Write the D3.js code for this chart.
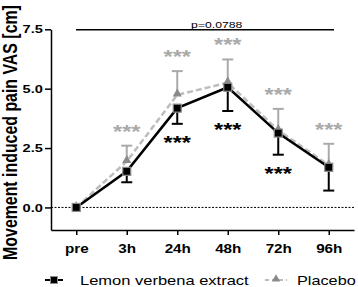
<!DOCTYPE html>
<html><head><meta charset="utf-8">
<script src="https://cdn.jsdelivr.net/npm/d3@7"></script>
<style>html,body{margin:0;padding:0;background:#fff}svg{display:block}</style>
</head><body>
<script>
const categories = ["pre","3h","24h","48h","72h","96h"];
const lemonMean = [0, 1.52, 4.18, 5.06, 3.13, 1.69];
const lemonErr  = [0, 0.46, 0.66, 1.0, 0.91, 0.98];
const placeboMean = [0, 1.94, 4.74, 5.25, 3.25, 1.78];
const placeboErr  = [0, 0.66, 1.0, 0.98, 0.9, 0.9];
const lemonStars = ["", "", "***", "***", "***", ""];
const placeboStars = ["", "***", "***", "***", "***", "***"];
const yTicks = [0, 2.5, 5.0, 7.5];
const yTitle = "Movement induced pain VAS [cm]";
const pText = "p=0.0788";
const legendLabels = ["Lemon verbena extract", "Placebo"];

const W = 358, H = 287, SX = 1.27;
const FONT = "'Liberation Sans', Arial, sans-serif";
const svg = d3.select("body").append("svg").attr("width", W).attr("height", H)
  .style("font-family", FONT);

const x = d3.scalePoint().domain(categories).range([51, 354]).padding(0.5);
const y = d3.scaleLinear().domain([-0.95, 7.5]).range([230, 29.3]);

function txt(g, s, px, py, size, weight, anchor, fill) {
  return g.append("text").attr("transform", `translate(${px},${py}) scale(${SX},1)`)
    .attr("text-anchor", anchor).attr("font-size", size).attr("font-weight", weight)
    .attr("fill", fill).text(s);
}

// zero line
svg.append("line").attr("x1", 51).attr("x2", 354).attr("y1", y(0)).attr("y2", y(0))
  .attr("stroke", "#000").attr("stroke-width", 1).attr("stroke-dasharray", "2,1.5");

// axes
const yAx = svg.append("g").attr("transform", "translate(51,0)")
  .call(d3.axisLeft(y).tickValues(yTicks).tickFormat(d3.format(".1f")).tickSize(6).tickSizeOuter(0).tickPadding(0.4));
yAx.selectAll("path,line").attr("stroke", "#000").attr("stroke-width", 1.5);
yAx.selectAll("text").attr("font-size", 11.5).attr("font-weight", "bold").attr("fill", "#000")
  .attr("font-family", FONT).attr("transform", `scale(${SX},1)`);

const xAx = svg.append("g").attr("transform", "translate(0,230)")
  .call(d3.axisBottom(x).tickSize(5).tickSizeOuter(0).tickPadding(9));
xAx.selectAll("path,line").attr("stroke", "#000").attr("stroke-width", 1.5);
xAx.selectAll("text").attr("font-size", 12).attr("font-weight", "bold").attr("fill", "#000")
  .attr("font-family", FONT).attr("transform", `scale(${SX},1)`);

// y title
svg.append("text").attr("transform", `translate(17,132.5) scale(${SX},1) rotate(-90)`)
  .attr("text-anchor", "middle").attr("font-size", 15.9).attr("font-weight", "bold").text(yTitle);

// significance bracket
svg.append("line").attr("x1", 76).attr("x2", 334).attr("y1", 29.8).attr("y2", 29.8)
  .attr("stroke", "#000").attr("stroke-width", 1.5);
txt(svg, pText, 216.7, 27.5, 9.6, "normal", "middle", "#000");

const data = categories.map((c, i) => ({c, lm: lemonMean[i], le: lemonErr[i], pm: placeboMean[i], pe: placeboErr[i], ls: lemonStars[i], ps: placeboStars[i]}));

const line = (acc) => d3.line().x(d => x(d.c)).y(d => y(acc(d)));

// placebo series
svg.append("path").datum(data).attr("d", line(d => d.pm)).attr("fill", "none")
  .attr("stroke", "#bdbdbd").attr("stroke-width", 2.5).attr("stroke-dasharray", "6,3");
const pErr = svg.append("g");
data.filter(d => d.pe > 0).forEach(d => {
  pErr.append("line").attr("x1", x(d.c)).attr("x2", x(d.c)).attr("y1", y(d.pm)).attr("y2", y(d.pm + d.pe))
    .attr("stroke", "#aaa").attr("stroke-width", 2);
  pErr.append("line").attr("x1", x(d.c) - 5.5).attr("x2", x(d.c) + 5.5).attr("y1", y(d.pm + d.pe)).attr("y2", y(d.pm + d.pe))
    .attr("stroke", "#aaa").attr("stroke-width", 2);
});
const tri = d3.symbol().type(d3.symbolTriangle).size(36);
svg.append("g").selectAll("path").data(data).join("path")
  .attr("transform", d => `translate(${x(d.c)},${y(d.pm) - 1})`).attr("d", tri()).attr("fill", "#8a8a8a");

// lemon series
svg.append("path").datum(data).attr("d", line(d => d.lm)).attr("fill", "none")
  .attr("stroke", "#000").attr("stroke-width", 2.5);
const lErr = svg.append("g");
data.filter(d => d.le > 0).forEach(d => {
  lErr.append("line").attr("x1", x(d.c)).attr("x2", x(d.c)).attr("y1", y(d.lm)).attr("y2", y(d.lm - d.le))
    .attr("stroke", "#000").attr("stroke-width", 2);
  lErr.append("line").attr("x1", x(d.c) - 5.5).attr("x2", x(d.c) + 5.5).attr("y1", y(d.lm - d.le)).attr("y2", y(d.lm - d.le))
    .attr("stroke", "#000").attr("stroke-width", 2);
});
svg.append("g").selectAll("rect").data(data).join("rect")
  .attr("x", d => x(d.c) - 4).attr("y", d => y(d.lm) - 4).attr("width", 8).attr("height", 8)
  .attr("fill", "#000").attr("stroke", "#8c8c8c").attr("stroke-width", 1.2);

// stars
data.forEach(d => {
  if (d.ps) txt(svg, d.ps, x(d.c), y(d.pm + d.pe) - 8, 18.5, "bold", "middle", "#aaa");
  if (d.ls) txt(svg, d.ls, x(d.c), y(d.lm - d.le) + 25, 18.5, "bold", "middle", "#000");
});

// legend
const lg = svg.append("g");
lg.append("line").attr("x1", 45).attr("x2", 63).attr("y1", 280).attr("y2", 280).attr("stroke", "#000").attr("stroke-width", 2);
lg.append("rect").attr("x", 50.5).attr("y", 276.5).attr("width", 7).attr("height", 7).attr("fill", "#000").attr("stroke", "#8c8c8c").attr("stroke-width", 1);
txt(lg, legendLabels[0], 80, 284.5, 13, "normal", "start", "#000");
lg.append("line").attr("x1", 265).attr("x2", 287).attr("y1", 280).attr("y2", 280).attr("stroke", "#bdbdbd").attr("stroke-width", 2).attr("stroke-dasharray", "4,3");
lg.append("path").attr("transform", "translate(276,279)").attr("d", d3.symbol().type(d3.symbolTriangle).size(30)()).attr("fill", "#8a8a8a");
txt(lg, legendLabels[1], 297, 284.5, 12.8, "normal", "start", "#000");
</script>
</body></html>
